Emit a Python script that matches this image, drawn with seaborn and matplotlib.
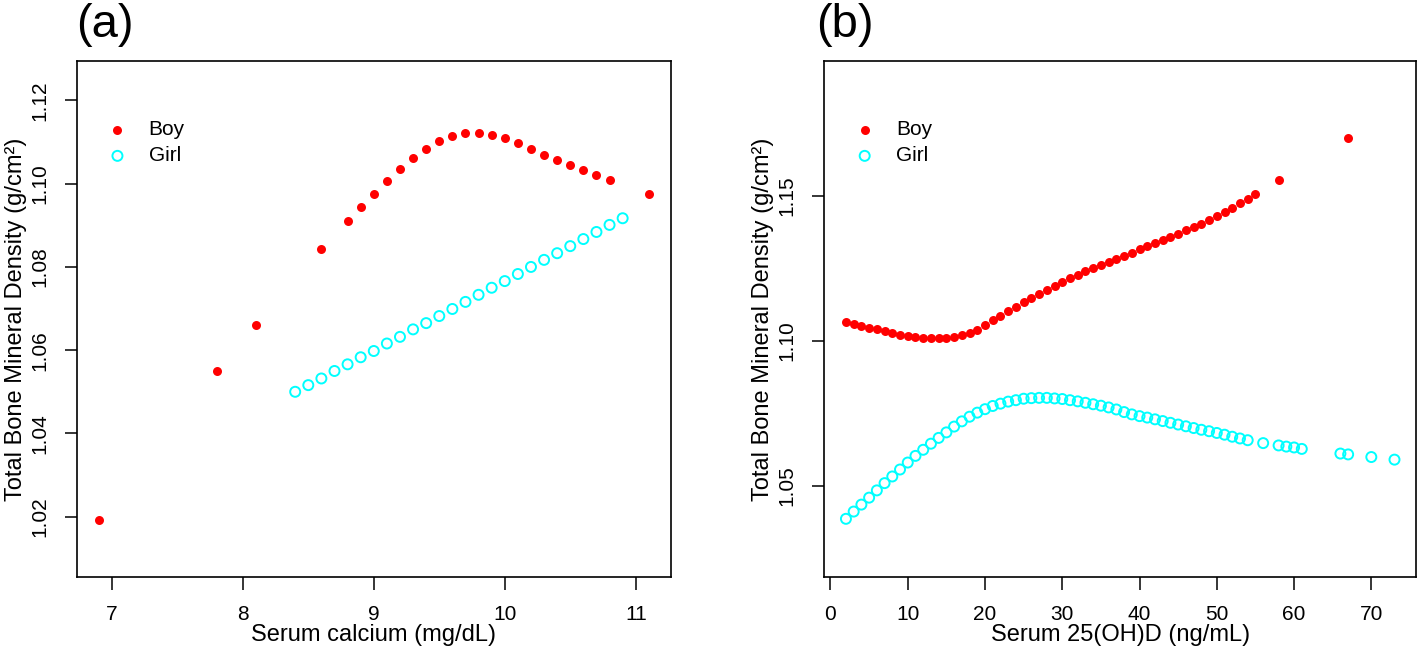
import matplotlib
matplotlib.use("Agg")
import matplotlib.pyplot as plt
import seaborn as sns

# (a) serum calcium
calcium_boy_x = [6.9, 7.8, 8.1, 8.6, 8.8, 8.9, 9.0, 9.1, 9.2, 9.3, 9.4, 9.5, 9.6,
                 9.7, 9.8, 9.9, 10.0, 10.1, 10.2, 10.3, 10.4, 10.5, 10.6, 10.7, 10.8, 11.1]
calcium_boy_y = [1.0191, 1.0549, 1.0660, 1.0842, 1.0910, 1.0944, 1.0975, 1.1006, 1.1035,
                 1.1061, 1.1084, 1.1103, 1.1115, 1.1122, 1.1122, 1.1117, 1.1109, 1.1097,
                 1.1083, 1.1070, 1.1057, 1.1044, 1.1032, 1.1020, 1.1008, 1.0976]
calcium_girl_x = [8.4, 8.5, 8.6, 8.7, 8.8, 8.9, 9.0, 9.1, 9.2, 9.3, 9.4, 9.5, 9.6,
                  9.7, 9.8, 9.9, 10.0, 10.1, 10.2, 10.3, 10.4, 10.5, 10.6, 10.7, 10.8, 10.9]
calcium_girl_y = [1.0500, 1.0516, 1.0532, 1.0550, 1.0566, 1.0583, 1.0598, 1.0616, 1.0632,
                  1.0650, 1.0665, 1.0682, 1.0699, 1.0716, 1.0733, 1.0750, 1.0766, 1.0783,
                  1.0800, 1.0817, 1.0833, 1.0850, 1.0867, 1.0884, 1.0901, 1.0917]

# (b) serum 25(OH)D
vitd_boy_x = [2, 3, 4, 5, 6, 7, 8, 9, 10, 11, 12, 13, 14, 15, 16, 17, 18, 19, 20,
              21, 22, 23, 24, 25, 26, 27, 28, 29, 30, 31, 32, 33, 34, 35, 36, 37, 38,
              39, 40, 41, 42, 43, 44, 45, 46, 47, 48, 49, 50, 51, 52, 53, 54, 55, 58, 67]
vitd_boy_y = [1.1066, 1.1058, 1.1051, 1.1045, 1.1039, 1.1032, 1.1026, 1.1021, 1.1016,
              1.1013, 1.1010, 1.1008, 1.1009, 1.1010, 1.1014, 1.1019, 1.1026, 1.1037,
              1.1055, 1.1070, 1.1086, 1.1101, 1.1117, 1.1132, 1.1147, 1.1160, 1.1174,
              1.1189, 1.1202, 1.1215, 1.1226, 1.1239, 1.1249, 1.1260, 1.1271, 1.1282,
              1.1293, 1.1304, 1.1315, 1.1325, 1.1336, 1.1348, 1.1358, 1.1369, 1.1381,
              1.1392, 1.1404, 1.1416, 1.1430, 1.1444, 1.1458, 1.1475, 1.1490, 1.1507,
              1.1555, 1.1700]
vitd_girl_x = [2, 3, 4, 5, 6, 7, 8, 9, 10, 11, 12, 13, 14, 15, 16, 17, 18, 19, 20,
               21, 22, 23, 24, 25, 26, 27, 28, 29, 30, 31, 32, 33, 34, 35, 36, 37, 38,
               39, 40, 41, 42, 43, 44, 45, 46, 47, 48, 49, 50, 51, 52, 53, 54, 56, 58,
               59, 60, 61, 66, 67, 70, 73]
vitd_girl_y = [1.0386, 1.0411, 1.0435, 1.0459, 1.0484, 1.0509, 1.0532, 1.0556, 1.0580,
               1.0603, 1.0624, 1.0645, 1.0665, 1.0684, 1.0704, 1.0722, 1.0738, 1.0752,
               1.0764, 1.0775, 1.0783, 1.0790, 1.0795, 1.0800, 1.0802, 1.0803, 1.0803,
               1.0801, 1.0799, 1.0795, 1.0791, 1.0786, 1.0781, 1.0776, 1.0770, 1.0763,
               1.0754, 1.0746, 1.0740, 1.0735, 1.0729, 1.0723, 1.0717, 1.0711, 1.0705,
               1.0699, 1.0693, 1.0688, 1.0682, 1.0676, 1.0669, 1.0663, 1.0657, 1.0647,
               1.0639, 1.0635, 1.0632, 1.0627, 1.0611, 1.0608, 1.0599, 1.0590]

calcium_ticks = [7, 8, 9, 10, 11]
calcium_yticks = [1.02, 1.04, 1.06, 1.08, 1.10, 1.12]
vitd_ticks = [0, 10, 20, 30, 40, 50, 60, 70]
vitd_yticks = [1.05, 1.10, 1.15]

sns.set_theme(style="ticks")
plt.rcParams["font.family"] = ["Liberation Sans", "DejaVu Sans"]
plt.rcParams["text.color"] = "black"
plt.rcParams["axes.labelcolor"] = "black"

fig = plt.figure(figsize=(14.18, 6.52), dpi=100)
ax_a = fig.add_axes([0.0541, 0.1144, 0.4190, 0.7928])
ax_b = fig.add_axes([0.5811, 0.1144, 0.4178, 0.7928])

boy_kw = dict(color="#FF0000", marker="o", s=42, linewidth=0)
girl_kw = dict(color="#00FFFF", marker="o", s=52, facecolor="none",
               edgecolor="#00FFFF", linewidth=1.4)


def style_panel(ax, xticks, yticks, xlim, ylim, xlabel, fmt):
    ax.set_xlim(*xlim)
    ax.set_ylim(*ylim)
    ax.set_xticks(xticks)
    ax.set_yticks(yticks)
    ax.set_yticklabels([fmt.format(v) for v in yticks], rotation=90, va="center")
    ax.tick_params(direction="out", length=9, width=1.1, labelsize=15, pad=11,
                   colors="black")
    for sp in ax.spines.values():
        sp.set_visible(True)
        sp.set_color("black")
        sp.set_linewidth(1.2)
    ax.set_xlabel(xlabel, fontsize=17, labelpad=0)
    ax.set_ylabel("Total Bone Mineral Density (g/cm²)", fontsize=17, labelpad=2)
    ax.legend(loc="upper left", bbox_to_anchor=(0.03, 0.905), frameon=False,
              fontsize=15, handletextpad=0.9, labelspacing=0.35, borderpad=0,
              handlelength=1.2)


sns.scatterplot(x=calcium_boy_x, y=calcium_boy_y, ax=ax_a, label="Boy", **boy_kw)
sns.scatterplot(x=calcium_girl_x, y=calcium_girl_y, ax=ax_a, label="Girl", **girl_kw)
style_panel(ax_a, calcium_ticks, calcium_yticks, (6.732, 11.268), (1.0054, 1.1296),
            "Serum calcium (mg/dL)", "{:.2f}")

sns.scatterplot(x=vitd_boy_x, y=vitd_boy_y, ax=ax_b, label="Boy", **boy_kw)
sns.scatterplot(x=vitd_girl_x, y=vitd_girl_y, ax=ax_b, label="Girl", **girl_kw)
style_panel(ax_b, vitd_ticks, vitd_yticks, (-0.84, 75.84), (1.0184, 1.1966),
            "Serum 25(OH)D (ng/mL)", "{:.2f}")

fig.text(0.054, 0.995, "(a)", fontsize=34, ha="left", va="top")
fig.text(0.5755, 0.995, "(b)", fontsize=34, ha="left", va="top")

fig.savefig("out.png", dpi=100)
